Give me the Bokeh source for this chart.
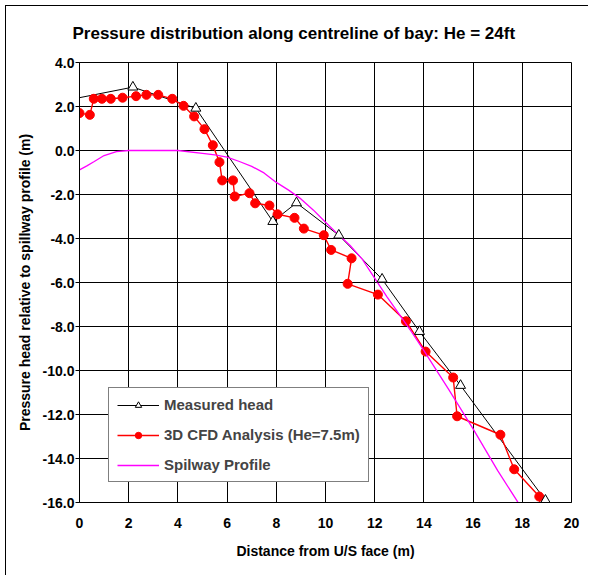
from bokeh.plotting import figure
from bokeh.models import FixedTicker, NumeralTickFormatter, Legend, LegendItem, Range1d
from bokeh.embed import file_html
from bokeh.resources import INLINE

# Measured head (triangles); first/last points lie outside the axes (clipped)
meas_x = [-1.0, 2.17, 4.73, 7.86, 8.82, 10.54, 12.30, 13.82, 15.49, 18.94, 19.6]
meas_y = [2.18, 2.88, 1.92, -3.23, -2.38, -3.85, -5.85, -8.23, -10.68, -15.90, -16.90]

# 3D CFD Analysis (He=7.5m)
cfd_x = [0.0, 0.42, 0.58, 0.91, 1.27, 1.75, 2.30, 2.72, 3.20, 3.77, 4.23, 4.66, 5.08, 5.42,
         5.69, 5.80, 6.24, 6.31, 6.91, 7.14, 7.72, 8.05, 8.74, 9.12, 9.93, 10.23, 11.06, 10.90,
         12.13, 13.27, 14.07, 15.19, 15.35, 17.11, 17.67, 18.69, 18.75]
cfd_y = [1.70, 1.62, 2.35, 2.35, 2.35, 2.40, 2.47, 2.53, 2.53, 2.35, 2.03, 1.55, 0.97, 0.24,
         -0.53, -1.36, -1.36, -2.09, -1.94, -2.40, -2.50, -2.90, -3.06, -3.55, -3.85, -4.52, -4.90, -6.06,
         -6.55, -7.76, -9.14, -10.32, -12.08, -12.92, -14.49, -15.73, -16.80]

# Spillway profile
prof_x = [0.0, 0.3, 0.6, 1.0, 1.5, 2.0, 3.0, 4.0, 5.0, 5.5, 6.0, 6.5, 7.0, 7.5, 8.0, 8.5, 9.0,
          9.5, 10.0, 10.5, 11.0, 11.5, 11.85, 12.5, 13.0, 13.5, 14.0, 15.0, 16.0, 17.0, 17.8, 18.0]
prof_y = [-0.88, -0.70, -0.50, -0.23, -0.05, 0.0, 0.0, 0.0, -0.13, -0.20, -0.30, -0.50, -0.72, -1.02,
          -1.45, -1.80, -2.20, -2.70, -3.26, -3.80, -4.32, -4.95, -5.55, -6.65, -7.45, -8.25, -9.10,
          -10.85, -12.65, -14.55, -15.95, -16.40]

x_ticks = [0, 2, 4, 6, 8, 10, 12, 14, 16, 18, 20]
y_ticks = [4, 2, 0, -2, -4, -6, -8, -10, -12, -14, -16]

TITLE = "Pressure distribution along centreline of bay: He = 24ft"
FONT = "Liberation Sans"

p = figure(width=583, height=570, output_backend="svg", toolbar_location=None,
           x_range=Range1d(0, 20), y_range=Range1d(-16, 4),
           min_border_left=73, min_border_right=18, min_border_top=56, min_border_bottom=74,
           title=TITLE)
p.margin = (5, 0, 0, 5)
p.styles = {"border-left": "1px solid black", "border-top": "1px solid black"}

p.title.text_font = FONT
p.title.text_font_size = "17px"
p.title.text_font_style = "bold"
p.title.text_color = "black"
p.title.align = "left"
p.title.vertical_align = "top"
p.title.offset = -7
p.title.standoff = 35

p.background_fill_color = "white"
p.border_fill_color = "white"
p.outline_line_color = "black"
p.outline_line_width = 1

p.xgrid.ticker = FixedTicker(ticks=x_ticks)
p.ygrid.ticker = FixedTicker(ticks=y_ticks)
for g in (p.xgrid, p.ygrid):
    g.grid_line_color = "black"
    g.grid_line_width = 1

p.xaxis.ticker = FixedTicker(ticks=x_ticks)
p.yaxis.ticker = FixedTicker(ticks=y_ticks)
p.xaxis.formatter = NumeralTickFormatter(format="0")
p.yaxis.formatter = NumeralTickFormatter(format="0.0")
p.xaxis.axis_label = "Distance from U/S face (m)"
p.yaxis.axis_label = "Pressure head relative to spillway profile (m)"
for ax in (p.xaxis, p.yaxis):
    ax.axis_line_color = "black"
    ax.major_label_text_font = FONT
    ax.major_label_text_font_size = "14px"
    ax.major_label_text_font_style = "bold"
    ax.major_label_text_color = "black"
    ax.axis_label_text_font = FONT
    ax.axis_label_text_font_size = "14px"
    ax.axis_label_text_font_style = "bold"
    ax.axis_label_text_color = "black"
    ax.minor_tick_line_color = None
    ax.major_tick_in = 0
p.xaxis.major_tick_out = 0
p.yaxis.major_tick_out = 4
p.yaxis.major_tick_line_color = "black"
p.xaxis.major_label_standoff = 15
p.yaxis.major_label_standoff = 1
p.xaxis.axis_label_standoff = 12
p.yaxis.axis_label_standoff = 7

# series
m_line = p.line(meas_x, meas_y, line_color="black", line_width=1)
c_line = p.line(cfd_x, cfd_y, line_color="#FF0000", line_width=1.4)
c_pts = p.scatter(cfd_x, cfd_y, marker="circle", size=9, fill_color="#FF0000", line_color="#FF0000")
s_line = p.line(prof_x, prof_y, line_color="#FF00FF", line_width=1.3)
m_pts = p.scatter(meas_x, meas_y, marker="triangle", size=10, fill_color="white",
                  line_color="black", line_width=1)

legend = Legend(items=[
    LegendItem(label="Measured head", renderers=[m_line, m_pts]),
    LegendItem(label="3D CFD Analysis (He=7.5m)", renderers=[c_line, c_pts]),
    LegendItem(label="Spilway Profile", renderers=[s_line]),
], location=(29, 20))
legend.label_text_font = FONT
legend.label_text_font_size = "15px"
legend.label_text_font_style = "bold"
legend.border_line_color = "black"
legend.border_line_width = 1
legend.background_fill_color = "white"
legend.background_fill_alpha = 1
legend.padding = 8
legend.spacing = 13
legend.label_height = 16
legend.glyph_height = 16
legend.glyph_width = 42
legend.label_standoff = 5
p.add_layout(legend, "center")

open("out.html", "w").write(file_html(p, INLINE))
